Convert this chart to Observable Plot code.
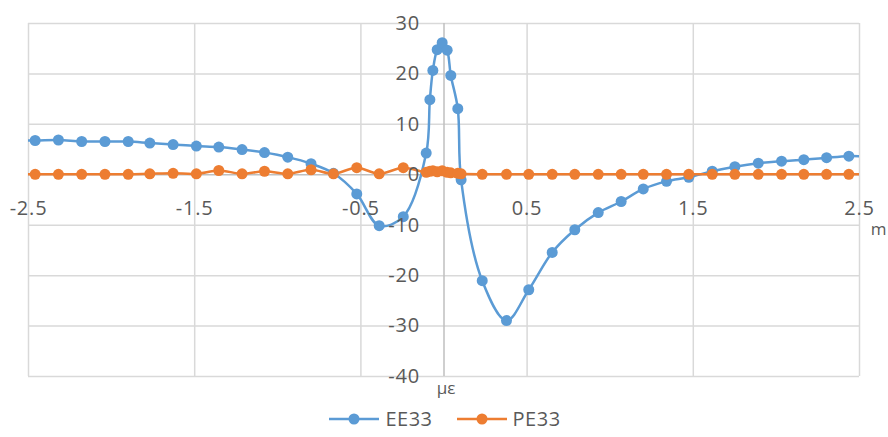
<!DOCTYPE html>
<html><head><meta charset="utf-8">
<script src="https://cdn.jsdelivr.net/npm/d3@7"></script>
<script src="https://cdn.jsdelivr.net/npm/@observablehq/plot@0.6"></script>
<style>
body{margin:0;background:#fff;font-family:'Open Sans',sans-serif;}
#legend{display:flex;justify-content:center;align-items:center;height:37px;margin-left:2px;}
.item{display:flex;align-items:center;margin:0 12px;}
.item span{font-size:20px;color:#595959;margin-left:6px;letter-spacing:0.5px;}
text.tick{letter-spacing:0.8px;}
</style>
</head><body>
<div id="chart"></div>
<div id="legend"></div>
<script>
const xs = [-2.6,-2.46,-2.32,-2.18,-2.04,-1.90,-1.77,-1.63,-1.49,-1.355,-1.215,-1.08,-0.94,-0.80,-0.665,-0.525,-0.39,-0.245,
  -0.107,-0.085,-0.067,-0.041,-0.011,0.019,0.041,0.083,0.103,
  0.23,0.376,0.51,0.651,0.787,0.928,1.066,1.199,1.339,1.473,1.614,1.75,1.891,2.031,2.165,2.302,2.436,2.57];
const ee33 = [6.8,6.8,6.9,6.6,6.6,6.6,6.3,6.0,5.7,5.5,5.0,4.4,3.5,2.2,0.3,-3.8,-10.1,-8.3,
  4.3,14.9,20.7,24.8,26.2,24.7,19.7,13.1,-1.0,
  -21.0,-28.9,-22.8,-15.4,-10.9,-7.5,-5.3,-2.8,-1.3,-0.5,0.7,1.6,2.3,2.7,3.0,3.4,3.7,3.6];
const pe33 = [0.1,0.1,0.1,0.1,0.1,0.1,0.2,0.3,0.2,0.85,0.2,0.7,0.2,1.0,0.2,1.4,0.2,1.4,
  0.5,0.7,0.8,0.6,0.8,0.5,0.4,0.3,0.2,
  0.1,0.1,0.1,0.1,0.1,0.1,0.1,0.1,0.1,0.1,0.1,0.1,0.1,0.1,0.1,0.1,0.1,0.1];
const xTicks = [-2.5,-1.5,-0.5,0.5,1.5,2.5];
const yTicks = [30,20,10,0,-10,-20,-30,-40];
const seriesNames = ["EE33","PE33"];
const colors = ["#5B9BD5","#ED7D31"];
const xUnit = "m";
const yUnit = "με";

const data = seriesNames.flatMap((s,k)=> xs.map((x,i)=>({x, y: (k===0?ee33:pe33)[i], s})));
const tickColor = "#595959";

const chart = Plot.plot({
  width: 888, height: 400,
  marginTop: 23, marginBottom: 24, marginLeft: 28, marginRight: 29,
  x: {domain: [-2.5, 2.5], axis: null},
  y: {domain: [-40, 30], axis: null},
  color: {domain: seriesNames, range: colors},
  style: {fontFamily: "'Open Sans', sans-serif", background: "#fff"},
  marks: [
    Plot.ruleY(yTicks.filter(d=>d!==0), {stroke: "#d9d9d9", strokeWidth: 1.5}),
    Plot.ruleX(xTicks, {stroke: "#d9d9d9", strokeWidth: 1.5}),
    Plot.ruleY([0], {stroke: "#bfbfbf", strokeWidth: 1.5}),
    Plot.ruleX([0], {stroke: "#bfbfbf", strokeWidth: 1.5}),
    Plot.line(data, {x: "x", y: "y", z: "s", stroke: "s", strokeWidth: 2.5, curve: "catmull-rom", clip: true}),
    Plot.dot(data, {x: "x", y: "y", fill: "s", r: 5.5, clip: true}),
    Plot.text(xTicks, {x: d=>d, y: 0, text: d=>String(d), dy: 34, fontSize: 20, fill: tickColor, className: "tick"}),
    Plot.text(yTicks, {x: 0, y: d=>d, text: d=>String(d), dx: -24, textAnchor: "end", fontSize: 20, fill: tickColor, className: "tick"}),
    Plot.text([xUnit], {x: 2.5, y: 0, text: d=>d, dx: 19, dy: 55, fontSize: 17, fill: tickColor}),
    Plot.text([yUnit], {x: 0, y: -40, text: d=>d, dx: 2, dy: 12, fontSize: 17, fill: tickColor})
  ]
});
document.getElementById("chart").appendChild(chart);
chart.querySelectorAll("g").forEach(g=>{ if (g.getAttribute("class")==="tick") g.querySelectorAll("text").forEach(t=>t.setAttribute("class","tick")); });

const legend = document.getElementById("legend");
seriesNames.forEach((name,i)=>{
  const item = document.createElement("div");
  item.className = "item";
  item.innerHTML = `<svg width="50" height="20"><line x1="0" y1="10" x2="50" y2="10" stroke="${colors[i]}" stroke-width="2.5"/><circle cx="25" cy="10" r="5.5" fill="${colors[i]}"/></svg><span>${name}</span>`;
  legend.appendChild(item);
});
</script>
</body></html>
